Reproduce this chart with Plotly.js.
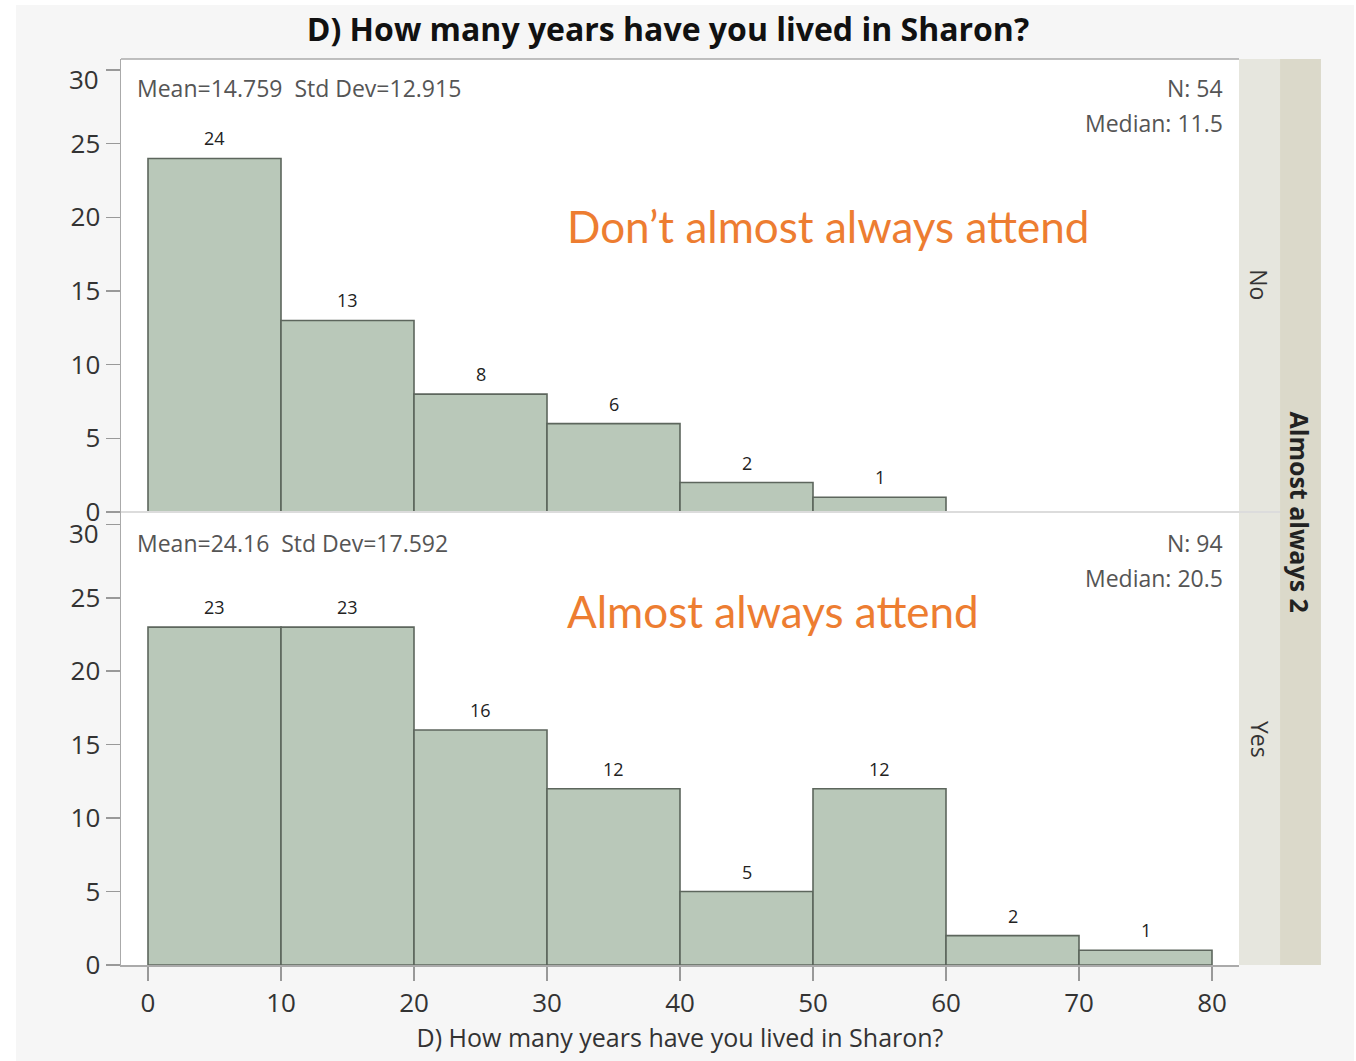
<!DOCTYPE html>
<html><head><meta charset="utf-8">
<script src="https://cdn.plot.ly/plotly-3.0.1.min.js"></script>
<style>html,body{margin:0;padding:0;background:#fff;}#chart{width:1356px;height:1061px;}</style>
</head><body><div id="chart"></div>
<script>
const binCenters = [5, 15, 25, 35, 45, 55, 65, 75];
const countsNo = [24, 13, 8, 6, 2, 1];
const countsYes = [23, 23, 16, 12, 5, 12, 2, 1];
const xTicks = [0, 10, 20, 30, 40, 50, 60, 70, 80];
const yTicks = [0, 5, 10, 15, 20, 25, 30];
const yTickText = ['0', '5', '10', '15', '20', '25', '30'];

const fill = '#b9c8b9', edge = '#5d665d';
const fam = 'Open Sans, Noto Sans, sans-serif';

const traces = [
  {type:'bar', x: binCenters.slice(0, countsNo.length), y: countsNo, width: 10,
   xaxis:'x', yaxis:'y', marker:{color:fill, line:{color:edge, width:1.6}}, hoverinfo:'skip'},
  {type:'bar', x: binCenters, y: countsYes, width: 10,
   xaxis:'x2', yaxis:'y2', marker:{color:fill, line:{color:edge, width:1.6}}, hoverinfo:'skip'}
];

const barLabels = [];
countsNo.forEach((v, i) => barLabels.push({text:String(v), x:binCenters[i], y:v, xref:'x', yref:'y',
  xanchor:'center', yanchor:'bottom', yshift:6, showarrow:false, font:{family:fam, size:18, color:'#222'}}));
countsYes.forEach((v, i) => barLabels.push({text:String(v), x:binCenters[i], y:v, xref:'x2', yref:'y2',
  xanchor:'center', yanchor:'bottom', yshift:6, showarrow:false, font:{family:fam, size:18, color:'#222'}}));

// the top tick label ("30") of each panel sits a little below its tick, as in the reference
const topIdx = yTicks.length - 1;
['y', 'y2'].forEach(ax => barLabels.push({text:yTickText[topIdx], x:0, y:yTicks[topIdx], xref:'paper', yref:ax,
  xanchor:'right', yanchor:'middle', xshift:-20, yshift:-9, showarrow:false, font:{family:fam, size:26, color:'#333'}}));

const yax = (dom, rng) => ({domain: dom, range: rng, tickvals: yTicks,
  ticktext: yTickText.map((t, i) => i === topIdx ? '' : t), ticks:'outside', ticklen:14,
  tickcolor:'#999', tickwidth:1.5, showline:true, linecolor:'#aaa', linewidth:1.5, showgrid:false, zeroline:false,
  tickfont:{family:fam, size:26, color:'#333'}, fixedrange:true});

const note = (text, x, y, anchor) => ({text, xref:'paper', yref:'paper', x, y, xanchor:anchor, yanchor:'middle',
  showarrow:false, font:{family:fam, size:23, color:'#555'}});

const layout = {
  width:1356, height:1061,
  margin:{l:121, r:117, t:59, b:96},
  paper_bgcolor:'#f6f6f6', plot_bgcolor:'#ffffff',
  showlegend:false, bargap:0,
  title:{text:'D) How many years have you lived in Sharon?', x:0.4926, xanchor:'center', y:0.9717, yanchor:'middle',
    font:{family:fam, size:32, color:'#111', weight:'bold'}},
  xaxis:{domain:[0,1], range:[-2.03, 82.03], anchor:'y', showticklabels:false, ticks:'', showgrid:false,
    zeroline:false, showline:false, fixedrange:true},
  yaxis: yax([0.5, 1], [0, 30.75]),
  xaxis2:{domain:[0,1], range:[-2.03, 82.03], anchor:'y2', tickvals:xTicks, ticks:'outside', ticklen:14,
    tickcolor:'#999', tickwidth:1.5, showline:true, linecolor:'#aaa', linewidth:1.5, showgrid:false, zeroline:false,
    tickfont:{family:fam, size:26, color:'#333'}, fixedrange:true,
    title:{text:'D) How many years have you lived in Sharon?', standoff:4, font:{family:fam, size:25, color:'#333'}}},
  yaxis2: yax([0, 0.5], [0, 30.84]),
  shapes:[
    {type:'rect', xref:'paper', yref:'paper', x0:-0.2, x1:-0.0939, y0:-0.2, y1:1.2, fillcolor:'#fff', line:{width:0}},
    {type:'rect', xref:'paper', yref:'paper', x0:-0.2, x1:1.3, y0:1.0596, y1:1.2, fillcolor:'#fff', line:{width:0}},
    {type:'rect', xref:'paper', yref:'paper', x0:1.1029, x1:1.3, y0:-0.2, y1:1.2, fillcolor:'#fff', line:{width:0}},
    {type:'rect', xref:'paper', yref:'paper', x0:1, x1:1.0367, y0:0, y1:1, fillcolor:'#e6e6de', line:{width:0}},
    {type:'rect', xref:'paper', yref:'paper', x0:1.0367, x1:1.0733, y0:0, y1:1, fillcolor:'#dbd9ca', line:{width:0}},
    {type:'line', xref:'paper', yref:'paper', x0:0, x1:1.0367, y0:0.5, y1:0.5, line:{color:'#dcdcdc', width:2}},
    {type:'line', xref:'paper', yref:'paper', x0:0, x1:1, y0:1, y1:1, line:{color:'#aaa', width:1.5}}
  ],
  annotations: barLabels.concat([
    note('Mean=14.759  Std Dev=12.915', 0.0125, 0.968, 'left'),
    note('N: 54', 0.9875, 0.968, 'right'),
    note('Median: 11.5', 0.9875, 0.929, 'right'),
    {text:'Don’t almost always attend', xref:'paper', yref:'paper', x:0.397, y:0.8157, xanchor:'left', yanchor:'middle', showarrow:false, font:{family:'Lato, sans-serif', size:44, color:'#ed7d31'}},
    note('Mean=24.16  Std Dev=17.592', 0.0125, 0.4658, 'left'),
    note('N: 94', 0.9875, 0.4658, 'right'),
    note('Median: 20.5', 0.9875, 0.4272, 'right'),
    {text:'Almost always attend', xref:'paper', yref:'paper', x:0.397, y:0.3907, xanchor:'left', yanchor:'middle', showarrow:false, font:{family:'Lato, sans-serif', size:44, color:'#ed7d31'}},
    {text:'No', xref:'paper', yref:'paper', x:1.0183, y:0.751, xanchor:'center', yanchor:'middle', textangle:90, showarrow:false, font:{family:fam, size:23, color:'#333'}},
    {text:'Yes', xref:'paper', yref:'paper', x:1.0183, y:0.249, xanchor:'center', yanchor:'middle', textangle:90, showarrow:false, font:{family:fam, size:23, color:'#333'}},
    {text:'<b>Almost always 2</b>', xref:'paper', yref:'paper', x:1.055, y:0.5, xanchor:'center', yanchor:'middle', textangle:90, showarrow:false, font:{family:fam, size:25, color:'#222'}}
  ])
};
Plotly.newPlot('chart', traces, layout, {displayModeBar:false, staticPlot:true});
</script></body></html>
